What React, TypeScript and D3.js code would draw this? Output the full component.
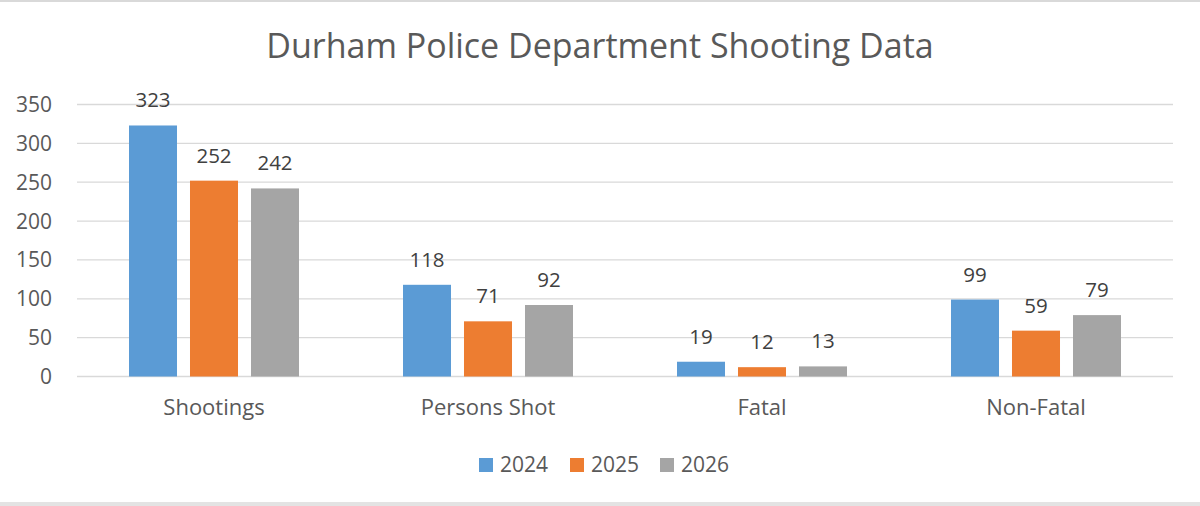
import React from "react";
import { scaleBand, scaleLinear } from "d3";

const categories = ["Shootings", "Persons Shot", "Fatal", "Non-Fatal"];
const seriesNames = ["2024", "2025", "2026"];
const values2024 = [323, 118, 19, 99];
const values2025 = [252, 71, 12, 59];
const values2026 = [242, 92, 13, 79];
const yTicks = [0, 50, 100, 150, 200, 250, 300, 350];

const colors = ["#5B9BD5", "#ED7D31", "#A5A5A5"];
const font = "'Open Sans', Lato, sans-serif";

const App = () => {
  const width = 1200;
  const height = 506;
  const left = 77;
  const right = 1173;
  const top = 104.5;
  const bottom = 376.5;

  const series = [values2024, values2025, values2026];

  const x0 = scaleBand().domain(categories).range([left, right]);
  const groupWidth = 170;
  const x1 = scaleBand()
    .domain(seriesNames)
    .range([0, groupWidth])
    .paddingInner(0.213);
  const y = scaleLinear().domain([0, 350]).range([bottom, top]);

  const groupStart = (c: string) =>
    (x0(c) as number) + (x0.bandwidth() - groupWidth) / 2;

  const gridLines = yTicks.map((t) => (
    <g key={t}>
      <line x1={left} x2={right} y1={y(t)} y2={y(t)} stroke="#D9D9D9" strokeWidth={1.3} />
      <text
        x={52}
        y={y(t)}
        dy="0.36em"
        textAnchor="end"
        fontSize="21"
        fill="#595959"
        fontFamily={font}
      >
        {t}
      </text>
    </g>
  ));

  const bars = categories.map((c, ci) => (
    <g key={c}>
      {seriesNames.map((s, si) => {
        const v = series[si][ci];
        const bx = groupStart(c) + (x1(s) as number);
        return (
          <g key={s}>
            <rect
              x={bx}
              y={y(v)}
              width={x1.bandwidth()}
              height={bottom - y(v)}
              fill={colors[si]}
            />
            <text
              x={bx + x1.bandwidth() / 2}
              y={y(v) - 18}
              textAnchor="middle"
              fontSize="20.5"
              fill="#404040"
              fontFamily={font}
            >
              {v}
            </text>
          </g>
        );
      })}
      <text
        x={(x0(c) as number) + x0.bandwidth() / 2}
        y={415}
        textAnchor="middle"
        fontSize="22"
        fill="#595959"
        fontFamily={font}
      >
        {c}
      </text>
    </g>
  ));

  const legendX = [479, 570, 660];
  const legend = seriesNames.map((s, i) => (
    <g key={s}>
      <rect x={legendX[i]} y={458} width={14} height={14} fill={colors[i]} />
      <text
        x={legendX[i] + 21}
        y={472}
        fontSize="21"
        fill="#595959"
        fontFamily={font}
      >
        {s}
      </text>
    </g>
  ));

  return (
    <svg
      width={width}
      height={height}
      viewBox={`0 0 ${width} ${height}`}
      style={{ position: "absolute", left: 0, top: 0 }}
    >
      <rect x={0} y={0} width={width} height={height} fill="#fff" />
      <line x1={0} x2={width} y1={1} y2={1} stroke="#D9D9D9" strokeWidth={2} />
      <line x1={0} x2={width} y1={504} y2={504} stroke="#E3E3E3" strokeWidth={4} />
      <text
        x={600}
        y={58}
        textAnchor="middle"
        fontSize="34"
        fill="#595959"
        fontFamily={font}
      >
        Durham Police Department Shooting Data
      </text>
      {gridLines}
      {bars}
      {legend}
    </svg>
  );
};

export default App;
